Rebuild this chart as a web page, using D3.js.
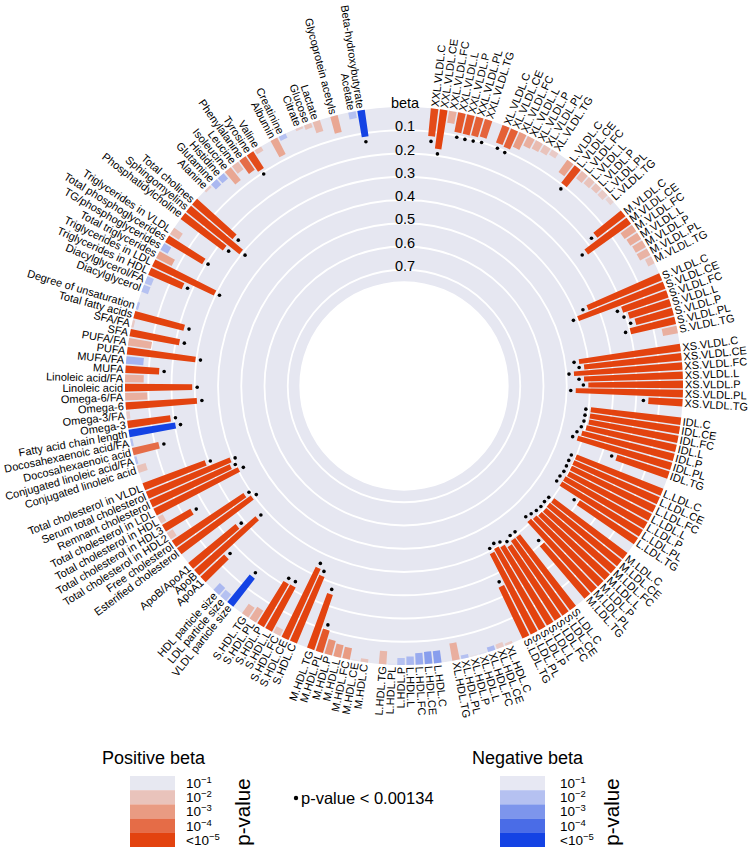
<!DOCTYPE html>
<html><head><meta charset="utf-8">
<script src="https://cdn.jsdelivr.net/npm/d3@7"></script>
<style>body{margin:0;background:#fff;} svg{display:block;font-family:"Liberation Sans",Arial,Helvetica,sans-serif;}</style>
</head><body><svg id="chart" width="750" height="847"></svg>
<script>
// ---------- DATA ----------
const lipoSizes = ["XXL.VLDL","XL.VLDL","L.VLDL","M.VLDL","S.VLDL","XS.VLDL","IDL","L.LDL","M.LDL","S.LDL","XL.HDL","L.HDL","M.HDL","S.HDL"];
const lipoMeasures = ["C","CE","FC","L","P","PL","TG"];
const otherGroups = [
  ["VLDL particle size","LDL particle size","HDL particle size"],
  ["ApoA1","ApoB","ApoB/ApoA1"],
  ["Esterified cholesterol","Free cholesterol","Total cholesterol in HDL2","Total cholesterol in HDL3","Total cholesterol in HDL","Total cholesterol in LDL","Remnant cholesterol","Serum total cholesterol","Total cholesterol in VLDL"],
  ["Conjugated linoleic acid","Conjugated linoleic acid/FA","Docosahexaenoic acid","Docosahexaenoic acid/FA","Fatty acid chain length","Omega-3","Omega-3/FA","Omega-6","Omega-6/FA","Linoleic acid","Linoleic acid/FA","MUFA","MUFA/FA","PUFA","PUFA/FA","SFA","SFA/FA","Total fatty acids","Degree of unsaturation"],
  ["Diacylglycerol","Diacylglycerol/FA","Triglycerides in HDL","Triglycerides in LDL","Total triglycerides","TG/phosphoglycerides","Total phosphoglycerides","Triglycerides in VLDL"],
  ["Phosphatidylcholine","Sphingomyelins","Total cholines"],
  ["Alanine","Glutamine","Histidine","Isoleucine","Leucine","Phenylalanine","Tyrosine","Valine"],
  ["Albumin","Creatinine"],
  ["Citrate","Glucose","Lactate"],
  ["Glycoprotein acetyls"],
  ["Acetate","Beta-hydroxybutyrate"]
];

// beta per variable (clockwise from the top gap); negative = blue bars
const betas = [
  0.12,0.17,0.053,0.085,0.086,0.084,0.079,      // XXL.VLDL
  0.08,0.085,0.07,0.045,0.04,0.035,0.025,       // XL.VLDL
  0.065,0.095,0.04,0.035,0.03,0.03,0.02,        // L.VLDL
  0.152,0.227,0.06,0.055,0.05,0.05,0.03,        // M.VLDL
  0.342,0.397,0.206,0.187,0.167,0.198,0.065,    // S.VLDL
  0.44,0.421,0.467,0.425,0.407,0.461,0.147,     // XS.VLDL
  0.39,0.39,0.39,0.396,0.409,0.421,0.236,       // IDL
  0.40,0.401,0.40,0.399,0.404,0.405,0.298,      // L.LDL
  0.393,0.396,0.394,0.397,0.403,0.41,0.297,     // M.LDL
  0.39,0.39,0.376,0.391,0.399,0.388,0.242,      // S.LDL
  0.01,0.02,-0.02,-0.005,0.005,-0.015,0.075,    // XL.HDL
  -0.053,-0.053,-0.05,-0.036,-0.03,-0.005,0.057,// L.HDL
  0.015,0.005,0.05,0.055,0.065,0.10,0.25,       // M.HDL
  0.31,0.335,0.03,0.216,0.214,0.06,0.05,        // S.HDL
  -0.152,-0.035,-0.04,                          // particle sizes
  0.14,0.35,0.263,                              // apolipoproteins
  0.39,0.37,0.03,0.14,0.025,0.404,0.378,0.389,0.285, // cholesterol
  0.04,-0.01,0.116,-0.01,-0.203,0.186,0.015,0.307,0.095,0.289,0.08,0.145,-0.075,0.296,0.10,0.216,0.01,0.222,-0.01, // fatty acids
  -0.03,-0.03,0.157,0.294,0.075,-0.035,0.186,0.045, // glycerides & phospholipids
  0.227,0.293,0.229,                            // cholines
  0.01,-0.03,-0.03,0.07,0.04,0.07,0.085,0.02,   // amino acids
  0.08,-0.02,                                   // albumin, creatinine
  0.01,0.02,0.05,                               // glycolysis
  0.075,                                        // GlycA
  -0.03,-0.115                                  // ketone bodies
];
// p-value level: 1 = 1e-1, 2 = 1e-2, 3 = 1e-3, 4 = 1e-4, 5 = <1e-5
const pLevels = [
  4.8,5,2.5,4.5,4.5,4.3,4.2,
  4.3,4.3,3,2.5,2.2,2,1.8,
  2.8,4.8,2.2,2,2,1.8,1.6,
  5,5,2.7,2.6,2.5,2.4,2,
  5,5,5,5,5,5,2.5,
  5,5,5,5,5,5,5,
  5,5,5,5,5,5,5,
  5,5,5,5,5,5,5,
  5,5,5,5,5,5,5,
  5,5,5,5,5,5,5,
  1.8,1.8,2.2,1.2,1.2,2,2.5,
  2.8,2.8,2.5,2.2,2,1.2,2.3,
  2,1.2,3,3,3.2,4.5,5,
  5,5,2,5,5,2.5,2.3,
  5,2,2.2,
  5,5,5,
  5,5,2,5,2,5,5,5,5,
  2,2,4,2,5,5,1.8,5,2.5,5,2.5,5,2.3,5,2.5,5,1.8,5,2,
  2,2,5,5,2.8,2.2,5,2.2,
  5,5,5,
  1.8,2.2,2.2,2.7,2.2,4,4.8,2,
  2.7,2,
  1.8,2,2.2,
  2.7,
  2,5
];
// 1 = p-value < 0.00134
const significant = [
  1,1,0,1,1,1,1,
  1,1,0,0,0,0,0,
  0,1,0,0,0,0,0,
  1,1,0,0,0,0,0,
  1,1,1,1,1,1,0,
  1,1,1,1,1,1,1,
  1,1,1,1,1,1,1,
  1,1,1,1,1,1,1,
  1,1,1,1,1,1,1,
  1,1,1,1,1,1,1,
  0,0,0,0,0,0,0,
  0,0,0,0,0,0,0,
  0,0,0,0,0,1,1,
  1,1,0,1,1,0,0,
  1,0,0,
  1,1,1,
  1,1,0,1,0,1,1,1,1,
  0,0,1,0,1,1,0,1,0,1,0,1,0,1,0,1,0,1,0,
  0,0,1,1,0,0,1,0,
  1,1,1,
  0,0,0,0,0,0,1,0,
  0,0,
  0,0,0,
  0,
  0,1
];
const betaTicks = [0.1,0.2,0.3,0.4,0.5,0.6,0.7];
const legendLabels = [["10","−1"],["10","−2"],["10","−3"],["10","−4"],["<10","−5"]];
const posColors = ["#e7e8f1","#e9c3bb","#e99b82","#e56c47","#e3430f"];
const negColors = ["#e7e8f3","#b5c1f1","#7d95ec","#4a6ce7","#1443e4"];

// ---------- BUILD ITEMS ----------
const groups = lipoSizes.map(s => lipoMeasures.map(m => s + "." + m)).concat(otherGroups);
const items = [];
let slot = 0;
groups.forEach((grp, gi) => {
  if (gi > 0) slot += 1; // one empty slot between groups
  grp.forEach(name => { items.push({name, pos: slot}); slot += 1; });
});
const lastPos = slot - 1;
const topGap = 8; // centre-to-centre slots across the axis gap
const totalSlots = lastPos + topGap;
items.forEach((d, i) => { d.beta = betas[i]; d.level = pLevels[i]; d.sig = significant[i]; });

// ---------- GEOMETRY ----------
const cx = 404, cy = 386, R = 279;
const svg = d3.select("#chart");
const g = svg.append("g").attr("transform", `translate(${cx},${cy})`);
const r = d3.scaleLinear().domain([0, 0.75]).range([R, R - 0.75 * 232.5]);
const slotDeg = 360 / totalSlots;
const angle = d3.scaleLinear().domain([0, totalSlots]).range([6.3, 6.3 + 360]); // degrees clockwise from top
const posColor = d3.scaleLinear().domain([1,2,3,4,5]).range(posColors).clamp(true);
const negColor = d3.scaleLinear().domain([1,2,3,4,5]).range(negColors).clamp(true);
const toRad = d => d * Math.PI / 180;

// background annulus
g.append("path")
  .attr("d", d3.arc()({innerRadius: r(0.75), outerRadius: r(0), startAngle: 0, endAngle: 2 * Math.PI}))
  .attr("fill", "#e6e7f1");
// rings
g.selectAll("circle.ring").data(betaTicks).join("circle")
  .attr("class", "ring").attr("r", d => r(d))
  .attr("fill", "none").attr("stroke", "#ffffff").attr("stroke-width", 1.8);

// bars
const arc = d3.arc();
const half = slotDeg * 0.41;
g.selectAll("path.bar").data(items).join("path")
  .attr("class", "bar")
  .attr("d", d => arc({innerRadius: r(Math.abs(d.beta)), outerRadius: r(0),
      startAngle: toRad(angle(d.pos) - half), endAngle: toRad(angle(d.pos) + half)}))
  .attr("fill", d => d.beta >= 0 ? posColor(d.level) : negColor(d.level));

// significance dots
g.selectAll("circle.dot").data(items.filter(d => d.sig)).join("circle")
  .attr("class", "dot")
  .attr("cx", d => (r(Math.abs(d.beta)) - 5) * Math.sin(toRad(angle(d.pos))))
  .attr("cy", d => -(r(Math.abs(d.beta)) - 5) * Math.cos(toRad(angle(d.pos))))
  .attr("r", 1.8).attr("fill", "#000");

// variable labels
g.selectAll("text.lab").data(items).join("text")
  .attr("class", "lab")
  .attr("transform", d => {
    const a = angle(d.pos) % 360;
    return `rotate(${a - 90}) translate(${R + 2},0) rotate(${a < 180 ? 0 : 180})`;
  })
  .attr("text-anchor", d => (angle(d.pos) % 360) < 180 ? "start" : "end")
  .attr("dominant-baseline", "central")
  .attr("font-size", 11)
  .attr("fill", "#000")
  .text(d => d.name);

// beta axis labels
g.append("text").attr("x", 1).attr("y", -r(0) - 4).attr("text-anchor", "middle")
  .attr("dominant-baseline", "central").attr("font-size", 14.5).text("beta");
g.selectAll("text.tick").data(betaTicks).join("text").attr("class", "tick")
  .attr("x", 1).attr("y", d => -r(d) - 4).attr("text-anchor", "middle")
  .attr("dominant-baseline", "central").attr("font-size", 14.5).text(d => d3.format(".1f")(d));

// ---------- LEGEND ----------
function legend(x0, title, colors, labelX, pvX) {
  svg.append("text").attr("x", x0).attr("y", 764).attr("font-size", 18).text(title);
  const boxX = x0 + 28;
  colors.forEach((c, i) => {
    svg.append("rect").attr("x", boxX).attr("y", 776 + i * 14.2).attr("width", 45).attr("height", 14.3).attr("fill", c);
    const t = svg.append("text").attr("x", labelX).attr("y", 776 + i * 14.2 + 12).attr("font-size", 13.5);
    t.append("tspan").text(legendLabels[i][0]);
    t.append("tspan").attr("dy", -5).attr("font-size", 9.5).text(legendLabels[i][1]);
  });
  svg.append("text").attr("transform", `translate(${pvX},812) rotate(-90)`).attr("text-anchor", "middle")
    .attr("dominant-baseline", "central").attr("font-size", 20.5).text("p-value");
}
legend(102, "Positive beta", posColors, 186, 242);
legend(472, "Negative beta", negColors, 560, 611);
svg.append("circle").attr("cx", 296).attr("cy", 798).attr("r", 2.2).attr("fill", "#000");
svg.append("text").attr("x", 301).attr("y", 804).attr("font-size", 16.5).text("p-value < 0.00134");
</script></body></html>
